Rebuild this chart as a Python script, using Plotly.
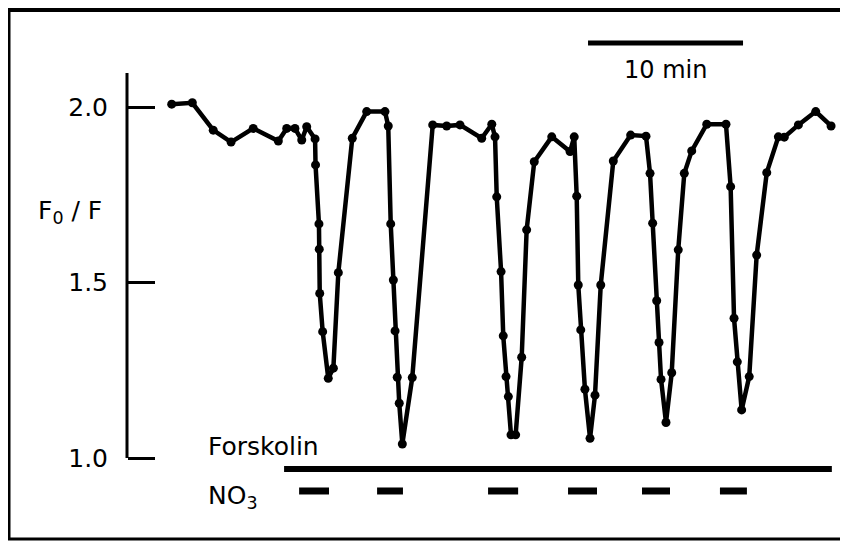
import plotly.graph_objects as go

# time (min) and F0/F ratio
time_min = [0, 1.33, 2.68, 3.83, 5.26, 6.88, 7.42, 7.95, 8.39, 8.71, 9.25,
            9.28, 9.50, 9.52, 9.55, 9.74, 10.10, 10.43, 10.75, 11.65, 12.58,
            13.76, 13.97, 14.13, 14.30, 14.41, 14.55, 14.68, 14.88, 15.52,
            16.84, 17.74, 18.60, 20.00, 20.65, 20.86, 20.97, 21.25, 21.39,
            21.57, 21.72, 21.89, 22.19, 22.58, 22.90, 23.39, 24.52, 25.70,
            25.97, 26.13, 26.23, 26.39, 26.66, 26.99, 27.31, 27.68, 28.49,
            29.61, 30.60, 30.86, 31.03, 31.29, 31.44, 31.57, 31.89, 32.26,
            32.68, 33.07, 33.55, 34.52, 35.76, 36.06, 36.28, 36.49, 36.77,
            37.26, 37.74, 38.39, 39.14, 39.52, 40.43, 41.55, 42.54]
ratio = [2.008, 2.012, 1.934, 1.900, 1.939, 1.903, 1.939, 1.939, 1.906, 1.944,
         1.909, 1.835, 1.667, 1.595, 1.469, 1.360, 1.227, 1.256, 1.528, 1.911,
         1.987, 1.987, 1.946, 1.667, 1.507, 1.362, 1.230, 1.156, 1.040, 1.229,
         1.949, 1.946, 1.949, 1.911, 1.951, 1.915, 1.744, 1.531, 1.348, 1.232,
         1.175, 1.066, 1.066, 1.287, 1.650, 1.844, 1.915, 1.873, 1.915, 1.746,
         1.493, 1.365, 1.196, 1.056, 1.179, 1.493, 1.846, 1.920, 1.917, 1.811,
         1.669, 1.448, 1.329, 1.224, 1.101, 1.243, 1.593, 1.811, 1.875, 1.951,
         1.951, 1.773, 1.398, 1.274, 1.137, 1.232, 1.578, 1.813, 1.915, 1.914,
         1.949, 1.987, 1.946]

forskolin_period = [7.25, 42.59]
no3_starts = [8.22, 13.25, 20.41, 25.57, 30.34, 35.37]
no3_ends = [10.15, 14.92, 22.35, 27.44, 32.15, 37.11]
scale_bar = [26.86, 36.86]  # 10 min
y_ticks = [1.0, 1.5, 2.0]
y_tick_labels = ["1.0", "1.5", "2.0"]

FONT = "DejaVu Sans"
FS = 25
forsk_level = 0.969
no3_level = 0.906
scale_level = 2.182

fig = go.Figure()

fig.add_trace(go.Scatter(
    x=time_min, y=ratio, mode="lines+markers",
    line=dict(color="black", width=4.5),
    marker=dict(color="black", size=9),
    cliponaxis=False, showlegend=False, hoverinfo="skip"))

fig.add_trace(go.Scatter(
    x=forskolin_period, y=[forsk_level] * 2, mode="lines",
    line=dict(color="black", width=6), showlegend=False, hoverinfo="skip"))

nx, ny = [], []
for s, e in zip(no3_starts, no3_ends):
    nx += [s, e, None]
    ny += [no3_level, no3_level, None]
fig.add_trace(go.Scatter(
    x=nx, y=ny, mode="lines", line=dict(color="black", width=7),
    showlegend=False, hoverinfo="skip"))

fig.add_trace(go.Scatter(
    x=scale_bar, y=[scale_level] * 2, mode="lines",
    line=dict(color="black", width=5), showlegend=False, hoverinfo="skip"))

# page places the figure 8 px in from the window's top-left corner
W, H = 840, 536
OFF = 8
x_px0 = 171.7 - OFF
y2_px = 107 - OFF
px_per_unit = 351
px_per_min = 15.5
x_range = [(0 - x_px0) / px_per_min, (W - x_px0) / px_per_min]
y_range = [2.0 - (H - y2_px) / px_per_unit, 2.0 + y2_px / px_per_unit]
axis_pos = (127 - OFF) / W

def px(x):
    return (x - OFF) / W

def py(y):
    return 1 - (y - OFF) / H

fig.update_layout(
    width=W, height=H,
    margin=dict(l=0, r=0, t=0, b=0),
    paper_bgcolor="white", plot_bgcolor="white",
    font=dict(family=FONT, color="black", size=FS),
    xaxis=dict(range=x_range, domain=[0, 1], visible=False, showgrid=False, zeroline=False),
    yaxis=dict(range=y_range, domain=[0, 1], anchor="free", position=axis_pos,
               side="left", showgrid=False, zeroline=False, showline=False,
               ticks="inside", ticklen=27, tickwidth=3, tickcolor="black",
               tickvals=y_ticks, ticktext=y_tick_labels,
               tickfont=dict(family=FONT, size=FS, color="black"),
               ticklabelstandoff=19),
    shapes=[
        dict(type="line", xref="paper", yref="y", x0=axis_pos, x1=axis_pos,
             y0=1.0, y1=2.097, line=dict(color="black", width=3)),
        dict(type="rect", xref="paper", yref="paper",
             x0=px(9), x1=px(852), y0=py(539), y1=1 - 1.5 / H,
             line=dict(color="black", width=3)),
        dict(type="line", xref="paper", yref="paper",
             x0=0, x1=1, y0=1 - 1.5 / H, y1=1 - 1.5 / H,
             line=dict(color="black", width=5)),
    ],
    annotations=[
        dict(text="10 min", x=sum(scale_bar) / 2, y=2.105, xref="x", yref="y",
             showarrow=False, font=dict(size=24, family=FONT)),
        dict(text="F<sub>0</sub> / F", x=px(36), y=1.70, xref="paper", yref="y",
             xanchor="left", showarrow=False, font=dict(size=FS, family=FONT)),
        dict(text="Forskolin", x=px(206), y=1.033, xref="paper", yref="y",
             xanchor="left", showarrow=False, font=dict(size=FS, family=FONT)),
        dict(text="NO<sub>3</sub>", x=px(206), y=0.89, xref="paper", yref="y",
             xanchor="left", showarrow=False, font=dict(size=FS, family=FONT)),
    ],
)

fig.write_html("out.html")
